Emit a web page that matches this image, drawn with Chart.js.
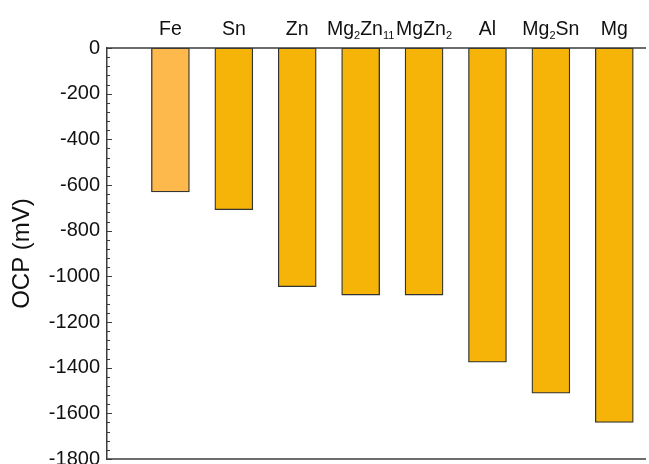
<!DOCTYPE html>
<html>
<head>
<meta charset="utf-8">
<title>OCP of phases</title>
<script src="https://cdn.jsdelivr.net/npm/chart.js@4.4.1/dist/chart.umd.min.js"></script>
<style>
  html, body { margin: 0; padding: 0; background: #ffffff; }
  #wrap { width: 649px; height: 464px; }
</style>
</head>
<body>
<div id="wrap"><canvas id="chart" width="649" height="464"></canvas></div>
<script>
// Phase names; "_n" marks a subscript number
const phases = ['Fe', 'Sn', 'Zn', 'Mg_2Zn_11', 'MgZn_2', 'Al', 'Mg_2Sn', 'Mg'];
// Open circuit potential of each phase (mV)
const ocpValues = [-630, -708, -1045, -1082, -1082, -1376, -1512, -1640];
// Value axis range and tick steps (mV)
const yMin = -1800;
const yMax = 0;
const yMajorStep = 200;
const yMinorStep = 40;

const FONT = "'Liberation Sans', Arial, Helvetica, sans-serif";
const TEXT = '#111111';
const FRAME = '#3c3c3c';

const points = ocpValues.map((v, i) => ({ x: i + 1, y: v }));

// Split a name like "Mg_2Zn_11" into normal and subscript runs
function splitName(name) {
  const parts = [];
  const re = /_(\d+)/g;
  let last = 0, m;
  while ((m = re.exec(name)) !== null) {
    if (m.index > last) parts.push({ text: name.slice(last, m.index), sub: false });
    parts.push({ text: m[1], sub: true });
    last = re.lastIndex;
  }
  if (last < name.length) parts.push({ text: name.slice(last), sub: false });
  return parts;
}

// Frame lines, inward tick marks and phase names along the top
const framePlugin = {
  id: 'frame',
  afterDatasetsDraw(chart) {
    const { ctx, chartArea: a, scales } = chart;
    const y = scales.y, x = scales.x;
    ctx.save();
    // top and bottom frame lines
    ctx.strokeStyle = FRAME;
    ctx.lineWidth = 1.5;
    ctx.beginPath();
    ctx.moveTo(a.left, a.top); ctx.lineTo(a.right, a.top);
    ctx.moveTo(a.left, a.bottom); ctx.lineTo(a.right, a.bottom);
    ctx.stroke();
    // inward ticks on the value axis
    ctx.lineWidth = 1;
    ctx.beginPath();
    for (let v = yMax; v >= yMin; v -= yMinorStep) {
      const py = Math.round(y.getPixelForValue(v)) + 0.5;
      const len = (v % yMajorStep === 0) ? 5 : 3;
      ctx.moveTo(a.left, py); ctx.lineTo(a.left + len, py);
    }
    ctx.stroke();
    // phase names with subscripts
    ctx.fillStyle = TEXT;
    ctx.textBaseline = 'alphabetic';
    ctx.textAlign = 'left';
    const big = '19.5px ' + FONT, small = '11px ' + FONT;
    phases.forEach((name, i) => {
      const parts = splitName(name);
      let w = 0;
      parts.forEach(p => { ctx.font = p.sub ? small : big; p.w = ctx.measureText(p.text).width; w += p.w; });
      let px = x.getPixelForValue(i + 1) - w / 2;
      const base = 35;
      parts.forEach(p => {
        ctx.font = p.sub ? small : big;
        ctx.fillText(p.text, px, p.sub ? base + 4 : base);
        px += p.w;
      });
    });
    ctx.restore();
  }
};

new Chart(document.getElementById('chart'), {
  type: 'bar',
  data: {
    datasets: [{
      data: points,
      backgroundColor: (c) => c.dataIndex === 0 ? '#fdb94c' : '#f6b408',
      borderColor: '#333333',
      borderWidth: 1.3,
      borderSkipped: false,
      barThickness: 38
    }]
  },
  options: {
    responsive: false,
    animation: false,
    layout: { padding: { left: 0, top: 48, right: 3, bottom: 5 } },
    plugins: { legend: { display: false }, tooltip: { enabled: false } },
    scales: {
      x: {
        type: 'linear',
        min: 0,
        max: 8.5,
        offset: false,
        ticks: { stepSize: 1 },
        display: false
      },
      y: {
        min: yMin,
        max: yMax,
        grid: { display: false, drawTicks: false },
        border: { display: true, color: FRAME, width: 1.5 },
        ticks: {
          stepSize: yMajorStep,
          padding: 7,
          color: TEXT,
          font: { family: FONT, size: 20 },
          callback: (v) => String(v)
        },
        title: {
          display: true,
          text: 'OCP (mV)',
          color: TEXT,
          font: { family: FONT, size: 24 },
          padding: { top: 7.5, bottom: 0 }
        },
        afterFit(scale) {
          scale.width = 107;
          scale.paddingTop = 0;
          scale.paddingBottom = 0;
        }
      }
    }
  },
  plugins: [framePlugin]
});
</script>
</body>
</html>
